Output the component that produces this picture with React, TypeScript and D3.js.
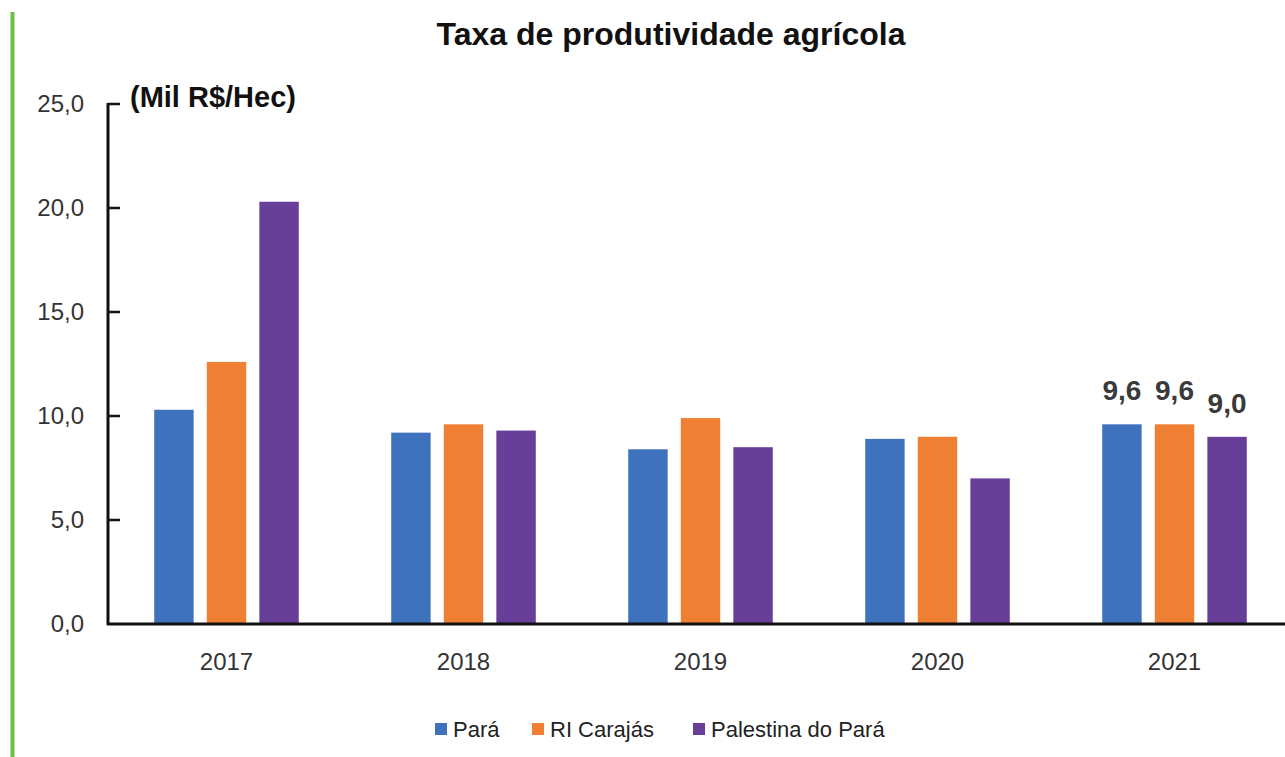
import React from "react";
import * as d3 from "d3";

const years = ["2017", "2018", "2019", "2020", "2021"];
const seriesNames = ["Pará", "RI Carajás", "Palestina do Pará"];
const para = [10.3, 9.2, 8.4, 8.9, 9.6];
const riCarajas = [12.6, 9.6, 9.9, 9.0, 9.6];
const palestina = [20.3, 9.3, 8.5, 7.0, 9.0];
const yTicks = [0, 5, 10, 15, 20, 25];
const colors = ["#3f72bd", "#ef7f33", "#673f98"];
const FONT = "'Liberation Sans', Arial, sans-serif";

export default function App() {
  const W = 1285, H = 757;
  const left = 108, right = 1293, top = 104, bottom = 624;
  const values = [para, riCarajas, palestina];
  const x = d3.scaleBand().domain(years).range([left, right]).paddingInner(0.39).paddingOuter(0.195);
  const xs = d3.scaleBand().domain(seriesNames).range([0, x.bandwidth()]).paddingInner(0.25);
  const y = d3.scaleLinear().domain([0, 25]).range([bottom, top]);
  const fmt = (v: number) => v.toFixed(1).replace(".", ",");
  const legendX = [435, 532, 693];
  return (
    <svg width={W} height={H} style={{ position: "absolute", left: 0, top: 0, background: "#fff" }}>
      <rect x={10.5} y={12} width={4} height={H - 12} fill="#6cc04a" />
      <text x={671} y={45} textAnchor="middle" fontFamily={FONT} fontWeight="bold" fontSize={32} fill="#111">
        Taxa de produtividade agrícola
      </text>
      {yTicks.map((t) => (
        <text key={t} x={84} y={y(t)} dy="0.35em" textAnchor="end" fontFamily={FONT} fontSize={24} fill="#333">
          {fmt(t)}
        </text>
      ))}
      <text x={130} y={107} fontFamily={FONT} fontWeight="bold" fontSize={29} fill="#111">(Mil R$/Hec)</text>
      {values.map((vals, si) =>
        years.map((yr, i) => (
          <rect
            key={si + "-" + yr}
            x={(x(yr) as number) + (xs(seriesNames[si]) as number)}
            y={y(vals[i])}
            width={xs.bandwidth()}
            height={bottom - y(vals[i])}
            fill={colors[si]}
          />
        ))
      )}
      {values.map((vals, si) => (
        <text
          key={"lbl" + si}
          x={(x("2021") as number) + (xs(seriesNames[si]) as number) + xs.bandwidth() / 2}
          y={y(vals[4]) - 24}
          textAnchor="middle"
          fontFamily={FONT}
          fontWeight="bold"
          fontSize={28}
          fill="#3a3a3a"
        >
          {fmt(vals[4])}
        </text>
      ))}
      <line x1={108} x2={108} y1={top - 1} y2={bottom + 1} stroke="#111" strokeWidth={3} />
      {yTicks.slice(1).map((t) => (
        <line key={"tk" + t} x1={108} x2={120} y1={y(t)} y2={y(t)} stroke="#111" strokeWidth={2.5} />
      ))}
      <line x1={107} x2={W} y1={bottom} y2={bottom} stroke="#111" strokeWidth={3} />
      {years.map((yr) => (
        <text key={"x" + yr} x={(x(yr) as number) + x.bandwidth() / 2} y={670} textAnchor="middle" fontFamily={FONT} fontSize={24} fill="#333">
          {yr}
        </text>
      ))}
      {seriesNames.map((n, i) => (
        <g key={n}>
          <rect x={legendX[i]} y={723} width={12} height={12} fill={colors[i]} />
          <text x={legendX[i] + 18} y={737} fontFamily={FONT} fontSize={22} fill="#222">{n}</text>
        </g>
      ))}
    </svg>
  );
}
